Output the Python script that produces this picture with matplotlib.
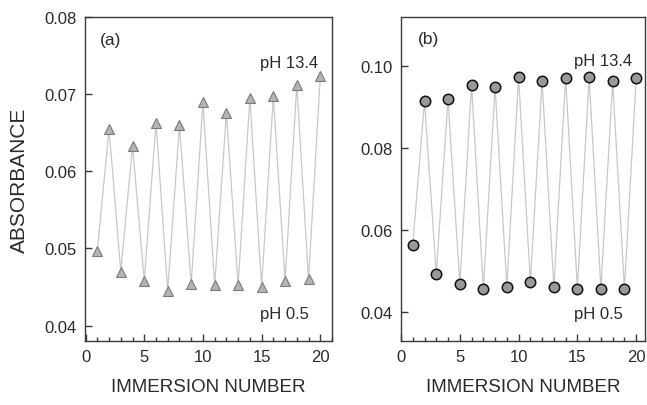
import matplotlib
matplotlib.use("Agg")
import matplotlib.pyplot as plt
from matplotlib.ticker import MultipleLocator

plt.rcParams["font.family"] = ["Liberation Sans", "DejaVu Sans"]
plt.rcParams["text.color"] = "#2a2a2a"
plt.rcParams["xtick.labelcolor"] = "#2a2a2a"
plt.rcParams["ytick.labelcolor"] = "#2a2a2a"
plt.rcParams["axes.labelcolor"] = "#2a2a2a"

immersion = list(range(1, 21))

# (a) triangles
absorb_a = [0.0497, 0.0655, 0.0470, 0.0633, 0.0458, 0.0663, 0.0445, 0.0660,
            0.0454, 0.0690, 0.0452, 0.0676, 0.0452, 0.0695, 0.0450, 0.0697,
            0.0458, 0.0712, 0.0460, 0.0723]

# (b) circles
absorb_b = [0.0565, 0.0915, 0.0494, 0.0919, 0.0469, 0.0954, 0.0457, 0.0949,
            0.0462, 0.0973, 0.0474, 0.0964, 0.0461, 0.0972, 0.0458, 0.0973,
            0.0458, 0.0963, 0.0457, 0.0971]

yticks_a = [0.04, 0.05, 0.06, 0.07, 0.08]
yticks_b = [0.04, 0.06, 0.08, 0.10]
xticks = [0, 5, 10, 15, 20]

W, H = 647, 406
fig = plt.figure(figsize=(W / 100, H / 100), dpi=100)
ax_a = fig.add_axes([85 / W, 64 / H, 247 / W, 324 / H])
ax_b = fig.add_axes([401 / W, 64 / H, 244 / W, 324 / H])

line_color = "#c8c8c8"
spine_color = "#3a3a3a"


def style_axis(ax, yticks, yfmt):
    for s in ax.spines.values():
        s.set_color(spine_color)
        s.set_linewidth(1.0)
    ax.set_xticks(xticks)
    ax.xaxis.set_minor_locator(MultipleLocator(1))
    ax.set_yticks(yticks)
    ax.set_yticklabels([yfmt.format(v) for v in yticks])
    ax.tick_params(axis="both", which="major", direction="in", length=5,
                   width=1, color=spine_color, labelsize=12, pad=6,
                   top=False, right=False)
    ax.tick_params(axis="x", which="minor", direction="in", length=3,
                   width=1, color=spine_color, top=False)
    ax.tick_params(axis="y", which="minor", left=False, right=False)
    ax.set_xlabel("IMMERSION NUMBER", fontsize=13.5, labelpad=10)


ax_a.plot(immersion, absorb_a, color=line_color, lw=0.9, zorder=1)
ax_a.plot(immersion, absorb_a, ls="none", marker="^", ms=7.5,
          mfc="#b4b4b4", mec="#7a7a7a", mew=0.8, zorder=2)
ax_a.set_xlim(-0.05, 21.0)
ax_a.set_ylim(0.038, 0.08)
style_axis(ax_a, yticks_a, "{:.2f}")
ax_a.set_ylabel("ABSORBANCE", fontsize=15, labelpad=11)
ax_a.text(0.06, 0.93, "(a)", transform=ax_a.transAxes, fontsize=12.5,
          va="center", ha="left")
ax_a.text(0.71, 0.86, "pH 13.4", transform=ax_a.transAxes, fontsize=12,
          va="center", ha="left")
ax_a.text(0.71, 0.085, "pH 0.5", transform=ax_a.transAxes, fontsize=12,
          va="center", ha="left")

ax_b.plot(immersion, absorb_b, color=line_color, lw=0.9, zorder=1)
ax_b.plot(immersion, absorb_b, ls="none", marker="o", ms=7.5,
          mfc="#999999", mec="#111111", mew=1.1, zorder=2)
ax_b.set_xlim(0, 20.75)
ax_b.set_ylim(0.033, 0.112)
style_axis(ax_b, yticks_b, "{:.2f}")
ax_b.text(0.07, 0.935, "(b)", transform=ax_b.transAxes, fontsize=12.5,
          va="center", ha="left")
ax_b.text(0.71, 0.866, "pH 13.4", transform=ax_b.transAxes, fontsize=12,
          va="center", ha="left")
ax_b.text(0.71, 0.085, "pH 0.5", transform=ax_b.transAxes, fontsize=12,
          va="center", ha="left")

fig.savefig("out.png", dpi=100)
